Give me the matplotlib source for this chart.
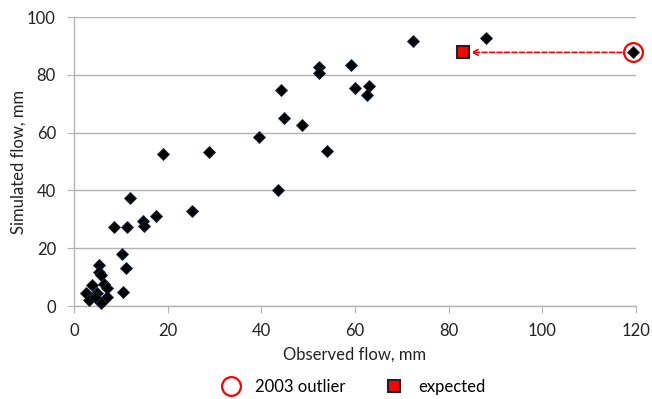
import matplotlib.pyplot as plt

# Datos
observed = [88.0, 72.4, 52.4, 52.4, 59.1, 44.3, 60.0, 62.9, 62.5, 44.8,
            48.6, 54.0, 39.6, 19.0, 28.9, 43.6, 11.9, 25.2, 17.5, 14.7,
            14.9, 8.5, 11.3, 10.3, 11.2, 10.5, 5.3, 5.3, 5.7, 6.3,
            7.0, 3.9, 2.5, 5.0, 7.1, 3.2, 5.7, 4.4, 119.4]
simulated = [92.8, 91.8, 82.9, 80.6, 83.6, 74.8, 75.6, 76.2, 73.1, 65.2,
             62.5, 53.8, 58.5, 52.5, 53.2, 40.2, 37.5, 33.0, 31.3, 29.4,
             27.7, 27.2, 27.3, 17.9, 13.1, 4.8, 14.1, 11.8, 10.7, 7.8,
             6.1, 7.2, 4.6, 4.6, 3.2, 2.1, 1.1, 3.2, 87.8]
outlier = (119.4, 87.8)
expected = (83.1, 87.8)

plt.rcParams['font.family'] = ['Lato', 'DejaVu Sans']

fig = plt.figure(figsize=(6.52, 3.99), dpi=100)
ax = fig.add_axes([0.1135, 0.233, 0.862, 0.724])

grey = '#b3b3b3'

# Puntos
ax.plot(observed, simulated, 'D', color='black', markersize=6,
        markeredgecolor='#1a2a40', markeredgewidth=0.6, linestyle='none',
        zorder=3, clip_on=False)

# Flecha del outlier al valor esperado
ax.annotate('', xy=(expected[0] + 1.6, expected[1]), xytext=(outlier[0] - 2.4, outlier[1]),
            arrowprops=dict(arrowstyle='->', color='red', linestyle=(0, (3, 1.5)), lw=1.2,
                            shrinkA=0, shrinkB=0), zorder=2)

ax.plot([outlier[0]], [outlier[1]], 'o', markerfacecolor='none', markeredgecolor='red',
        markersize=13.5, markeredgewidth=1.6, linestyle='none', label='2003 outlier',
        zorder=4, clip_on=False)
ax.plot([expected[0]], [expected[1]], 's', color='red', markeredgecolor='#222222',
        markersize=8, markeredgewidth=1.5, linestyle='none', label='expected', zorder=4)

ax.set_xlim(0, 120)
ax.set_ylim(0, 100)
ax.set_xticks(range(0, 121, 20))
ax.set_yticks(range(0, 101, 20))

ax.grid(axis='y', color=grey, linewidth=1)
ax.set_axisbelow(True)
for side in ['top', 'right']:
    ax.spines[side].set_visible(False)
for side in ['left', 'bottom']:
    ax.spines[side].set_color(grey)
    ax.spines[side].set_linewidth(1)
ax.tick_params(axis='both', length=5, color=grey, labelsize=12, labelcolor='#222222')
ax.tick_params(axis='x', pad=7)
ax.tick_params(axis='y', pad=8)

ax.set_xlabel('Observed flow, mm', fontsize=12, color='#222222', labelpad=6)
ax.set_ylabel('Simulated flow, mm', fontsize=12, color='#222222', labelpad=0)

fig.legend(loc='center', bbox_to_anchor=(0.54, 0.03), ncol=2, frameon=False,
           fontsize=12, handlelength=1.5, handletextpad=0.7, columnspacing=2.2)

fig.savefig('out.png', dpi=100)
